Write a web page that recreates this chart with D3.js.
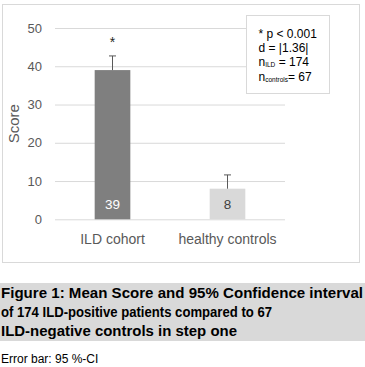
<!DOCTYPE html>
<html>
<head>
<meta charset="utf-8">
<script src="https://cdn.jsdelivr.net/npm/d3@7"></script>
<style>
  body { margin: 0; background: #fff; }
  svg { display: block; font-family: "Liberation Sans", Arial, sans-serif; }
</style>
</head>
<body>
<div id="chart"></div>
<script>
'use strict';

var categories = ["ILD cohort", "healthy controls"];
var means = [39, 8];
var ciUpper = [42.7, 11.6];
var yTicks = [0, 10, 20, 30, 40, 50];
var signif = ["*", ""];
var captionLines = [
  "Figure 1: Mean Score and 95% Confidence interval",
  "of 174 ILD-positive patients compared to 67",
  "ILD-negative controls in step one"
];
var captionWidths = [362, 271, 236];
var footnote = "Error bar: 95 %-CI";

var width = 365, height = 367;
var grey = "#595959";

var svg = d3.select("#chart").append("svg")
  .attr("width", width)
  .attr("height", height);

// chart frame
svg.append("rect")
  .attr("x", 2.5).attr("y", 4.5)
  .attr("width", 357).attr("height", 258)
  .attr("fill", "#fff")
  .attr("stroke", "#d9d9d9");

var x = d3.scaleBand()
  .domain(categories)
  .range([55, 285])
  .paddingInner(0.69)
  .paddingOuter(0.345);

var y = d3.scaleLinear()
  .domain([0, 50])
  .range([219.3, 28]);

// gridlines + tick labels
var yAxis = svg.append("g")
  .attr("transform", "translate(55,0)")
  .call(d3.axisLeft(y).tickValues(yTicks).tickSize(-230).tickPadding(13));
yAxis.select(".domain").remove();
yAxis.selectAll("line").attr("stroke", "#d9d9d9");
yAxis.selectAll("text")
  .attr("fill", grey)
  .style("font-size", "13px")
  .style("font-family", "Liberation Sans, Arial, sans-serif");

svg.append("text")
  .attr("transform", "translate(19," + y(25) + ") rotate(-90)")
  .attr("text-anchor", "middle")
  .attr("fill", grey)
  .style("font-size", "15px")
  .text("Score");

var data = categories.map(function(c, i) {
  return { cat: c, value: means[i], hi: ciUpper[i], star: signif[i] };
});

var bars = svg.selectAll(".bar")
  .data(data)
  .enter().append("g")
  .attr("class", "bar");

bars.append("rect")
  .attr("x", function(d) { return x(d.cat); })
  .attr("y", function(d) { return y(d.value); })
  .attr("width", x.bandwidth())
  .attr("height", function(d) { return y(0) - y(d.value); })
  .attr("fill", function(d, i) { return i === 0 ? "#7f7f7f" : "#d9d9d9"; });

// error bars (upper part)
bars.append("line")
  .attr("x1", function(d) { return x(d.cat) + x.bandwidth() / 2; })
  .attr("x2", function(d) { return x(d.cat) + x.bandwidth() / 2; })
  .attr("y1", function(d) { return y(d.value); })
  .attr("y2", function(d) { return y(d.hi); })
  .attr("stroke", grey);
bars.append("line")
  .attr("x1", function(d) { return x(d.cat) + x.bandwidth() / 2 - 3.5; })
  .attr("x2", function(d) { return x(d.cat) + x.bandwidth() / 2 + 3.5; })
  .attr("y1", function(d) { return y(d.hi); })
  .attr("y2", function(d) { return y(d.hi); })
  .attr("stroke", grey);

// value labels
bars.append("text")
  .attr("x", function(d) { return x(d.cat) + x.bandwidth() / 2; })
  .attr("y", y(0) - 10)
  .attr("text-anchor", "middle")
  .attr("fill", function(d, i) { return i === 0 ? "#fff" : "#404040"; })
  .style("font-size", "13.5px")
  .text(function(d) { return d.value; });

// significance star
bars.append("text")
  .attr("x", function(d) { return x(d.cat) + x.bandwidth() / 2; })
  .attr("y", function(d) { return y(d.hi) - 9; })
  .attr("text-anchor", "middle")
  .attr("fill", "#262626")
  .style("font-size", "14px")
  .text(function(d) { return d.star; });

// category labels
svg.selectAll(".cat")
  .data(categories)
  .enter().append("text")
  .attr("class", "cat")
  .attr("x", function(d) { return x(d) + x.bandwidth() / 2; })
  .attr("y", 244)
  .attr("text-anchor", "middle")
  .attr("fill", grey)
  .style("font-size", "14px")
  .text(function(d) { return d; });

// stats box
var box = svg.append("g").attr("transform", "translate(246.5,15.5)");
box.append("rect")
  .attr("width", 83).attr("height", 78)
  .attr("fill", "#fff")
  .attr("stroke", "#d9d9d9");
var boxText = box.append("g")
  .attr("fill", "#000")
  .style("font-size", "12px");
boxText.append("text").attr("x", 12).attr("y", 22).text("* p < 0.001");
boxText.append("text").attr("x", 12).attr("y", 36).text("d = |1.36|");
var t3 = boxText.append("text").attr("x", 12).attr("y", 50.5);
t3.append("tspan").text("n");
t3.append("tspan").style("font-size", "6.5px").attr("dy", 1).text("ILD");
t3.append("tspan").attr("dy", -1).text(" = 174");
var t4 = boxText.append("text").attr("x", 12).attr("y", 65);
t4.append("tspan").text("n");
t4.append("tspan").style("font-size", "6.5px").attr("dy", 1).text("controls");
t4.append("tspan").attr("dy", -1).text("= 67");

// caption
svg.append("rect")
  .attr("x", 0).attr("y", 283)
  .attr("width", width).attr("height", 58)
  .attr("fill", "#d9d9d9");
svg.selectAll(".caption")
  .data(captionLines)
  .enter().append("text")
  .attr("class", "caption")
  .attr("x", 1)
  .attr("y", function(d, i) { return 298 + i * 18.8; })
  .attr("textLength", function(d, i) { return captionWidths[i]; })
  .attr("lengthAdjust", "spacingAndGlyphs")
  .attr("fill", "#000")
  .style("font-size", "15px")
  .style("font-weight", "bold")
  .text(function(d) { return d; });

svg.append("text")
  .attr("x", 1)
  .attr("y", 363)
  .attr("fill", "#000")
  .style("font-size", "12px")
  .text(footnote);
</script>
</body>
</html>
